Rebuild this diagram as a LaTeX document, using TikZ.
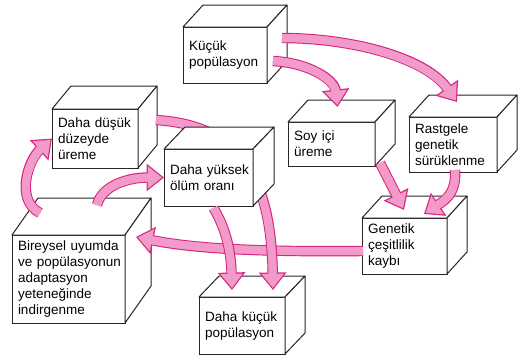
\documentclass[tikz,border=0pt]{standalone}
\usepackage{fontspec}
\setmainfont{Liberation Sans}
\usepackage{tikz}
\usetikzlibrary{arrows.meta,calc,positioning}
\definecolor{pinkL}{RGB}{242,155,202}
\definecolor{pinkD}{RGB}{215,40,128}
\newcommand\boxfont{\fontsize{13.5}{16}\selectfont\hyphenpenalty=10000\relax\hbadness=10000\relax\hfuzz=20pt\relax}
\tikzstyle{box} = [draw=black!85, line width=1pt, fill=white, inner xsep=6pt, outer sep=0pt, align=left, anchor=north west, font=\boxfont]
\tikzstyle{face} = [draw=black!85, line width=1pt, fill=white, line join=round]
\tikzstyle{fatout} = [draw=pinkD, line width=10.4pt, -{Triangle[length=17.5pt,width=26.5pt]}]
\tikzstyle{fatin} = [draw=pinkL, line width=8pt, shorten >=2pt, -{Triangle[length=14.2pt,width=21.5pt]}]
\tikzstyle{fatmid} = [draw=pinkL, line width=8pt, shorten >=15pt]
\newcommand\cubefaces[3]{% node, depth x, depth y
   \draw[face] (#1.north west) -- ++(#2,#3) -- ($(#1.north east)+(#2,#3)$) -- (#1.north east) -- cycle; % top
   \draw[face] (#1.north east) -- ($(#1.north east)+(#2,#3)$) -- ($(#1.south east)+(#2,#3)$) -- (#1.south east) -- cycle;} % side
\newcommand\fatarrow[1]{\draw[fatout] #1; \draw[fatin] #1; \draw[fatmid] #1;}
\begin{document}
\begin{tikzpicture}[x=1pt,y=-1pt]
   		\useasboundingbox (0,0) rectangle (518,357);
   		\node[box, minimum width=84pt, minimum height=56pt, text width=72pt]  (kucuk)    at (183,27)  {Küçük\\popülasyon};
   		\cubefaces{kucuk}{20}{-22}
   		\node[box, minimum width=86pt, minimum height=59pt, text width=74pt]  (dusuk)    at (52,109)  {Daha~düşük\\düzeyde\\üreme};
   		\cubefaces{dusuk}{19}{-23}
   		\node[box, minimum width=87pt, minimum height=44pt, text width=75pt]  (soy)      at (288,122) {Soy~içi\\üreme};
   		\cubefaces{soy}{20}{-22}
   		\node[box, minimum width=88pt, minimum height=55pt, text width=76pt]  (rastgele) at (409,117) {Rastgele\\genetik\\sürüklenme};
   		\cubefaces{rastgele}{20}{-22}
   		\node[box, minimum width=85pt, minimum height=56pt, text width=73pt]  (genetik)  at (362,218) {Genetik\\çeşitlilik\\kaybı};
   		\cubefaces{genetik}{20}{-22}
   		\node[box, minimum width=86pt, minimum height=57pt, text width=74pt]  (kucukpop) at (199,297) {Daha~küçük\\popülasyon};
   		\cubefaces{kucukpop}{20}{-21}
   		\node[box, minimum width=113pt, minimum height=88pt, text width=101pt] (bireysel) at (12,235) {Bireysel~uyumda\\ve~popülasyonun\\adaptasyon\\yeteneğinde\\indirgenme};
   		\cubefaces{bireysel}{26}{-37}
   		
   		\fatarrow{([xshift=1pt,yshift=-5pt]genetik.west) .. controls +(-100,1) and +(60,12) .. ([xshift=11pt,yshift=-2pt]bireysel.north east)} % genetik -> bireysel
   		\fatarrow{([xshift=18pt,yshift=-11pt]dusuk.north east) .. controls +(79,5) and +(-2,-120) .. ([xshift=-12pt,yshift=7pt]kucukpop.north east)} % behind yuksek
   		
   		\node[box, minimum width=89pt, minimum height=57pt, text width=77pt]  (yuksek)   at (164,149) {Daha~yüksek\\ölüm~oranı};
   		\cubefaces{yuksek}{21}{-22}
   		
   		\fatarrow{([xshift=5pt,yshift=-2pt]yuksek.south) .. controls +(12,20) and +(-1,-40) .. ([xshift=33pt,yshift=7pt]kucukpop.north west)}
   		\fatarrow{([xshift=15pt,yshift=-11pt]kucuk.north east) .. controls +(68,0) and +(-32,-45) .. ([xshift=4pt,yshift=15pt]rastgele.north)}
   		\fatarrow{([xshift=6pt,yshift=22pt]kucuk.south east) .. controls +(37,2) and +(-3,-27) .. ([xshift=6pt,yshift=15pt]soy.north)}
   		\fatarrow{([xshift=5pt,yshift=3pt]soy.south east) -- ([xshift=42pt,yshift=8pt]genetik.north west)}
   		\fatarrow{([xshift=2pt,yshift=2pt]rastgele.south) .. controls +(2,25) and +(18,-12) .. ([xshift=-23pt,yshift=4pt]genetik.north east)}
   		\fatarrow{([xshift=28pt,yshift=22pt]bireysel.north west) .. controls +(-25,-13) and +(-24,22) .. (dusuk.west)}
   		\fatarrow{([xshift=85pt,yshift=30pt]bireysel.north west) .. controls +(5,-20) and +(-35,0) .. (yuksek.west)}
   		
\end{tikzpicture}
\end{document}
